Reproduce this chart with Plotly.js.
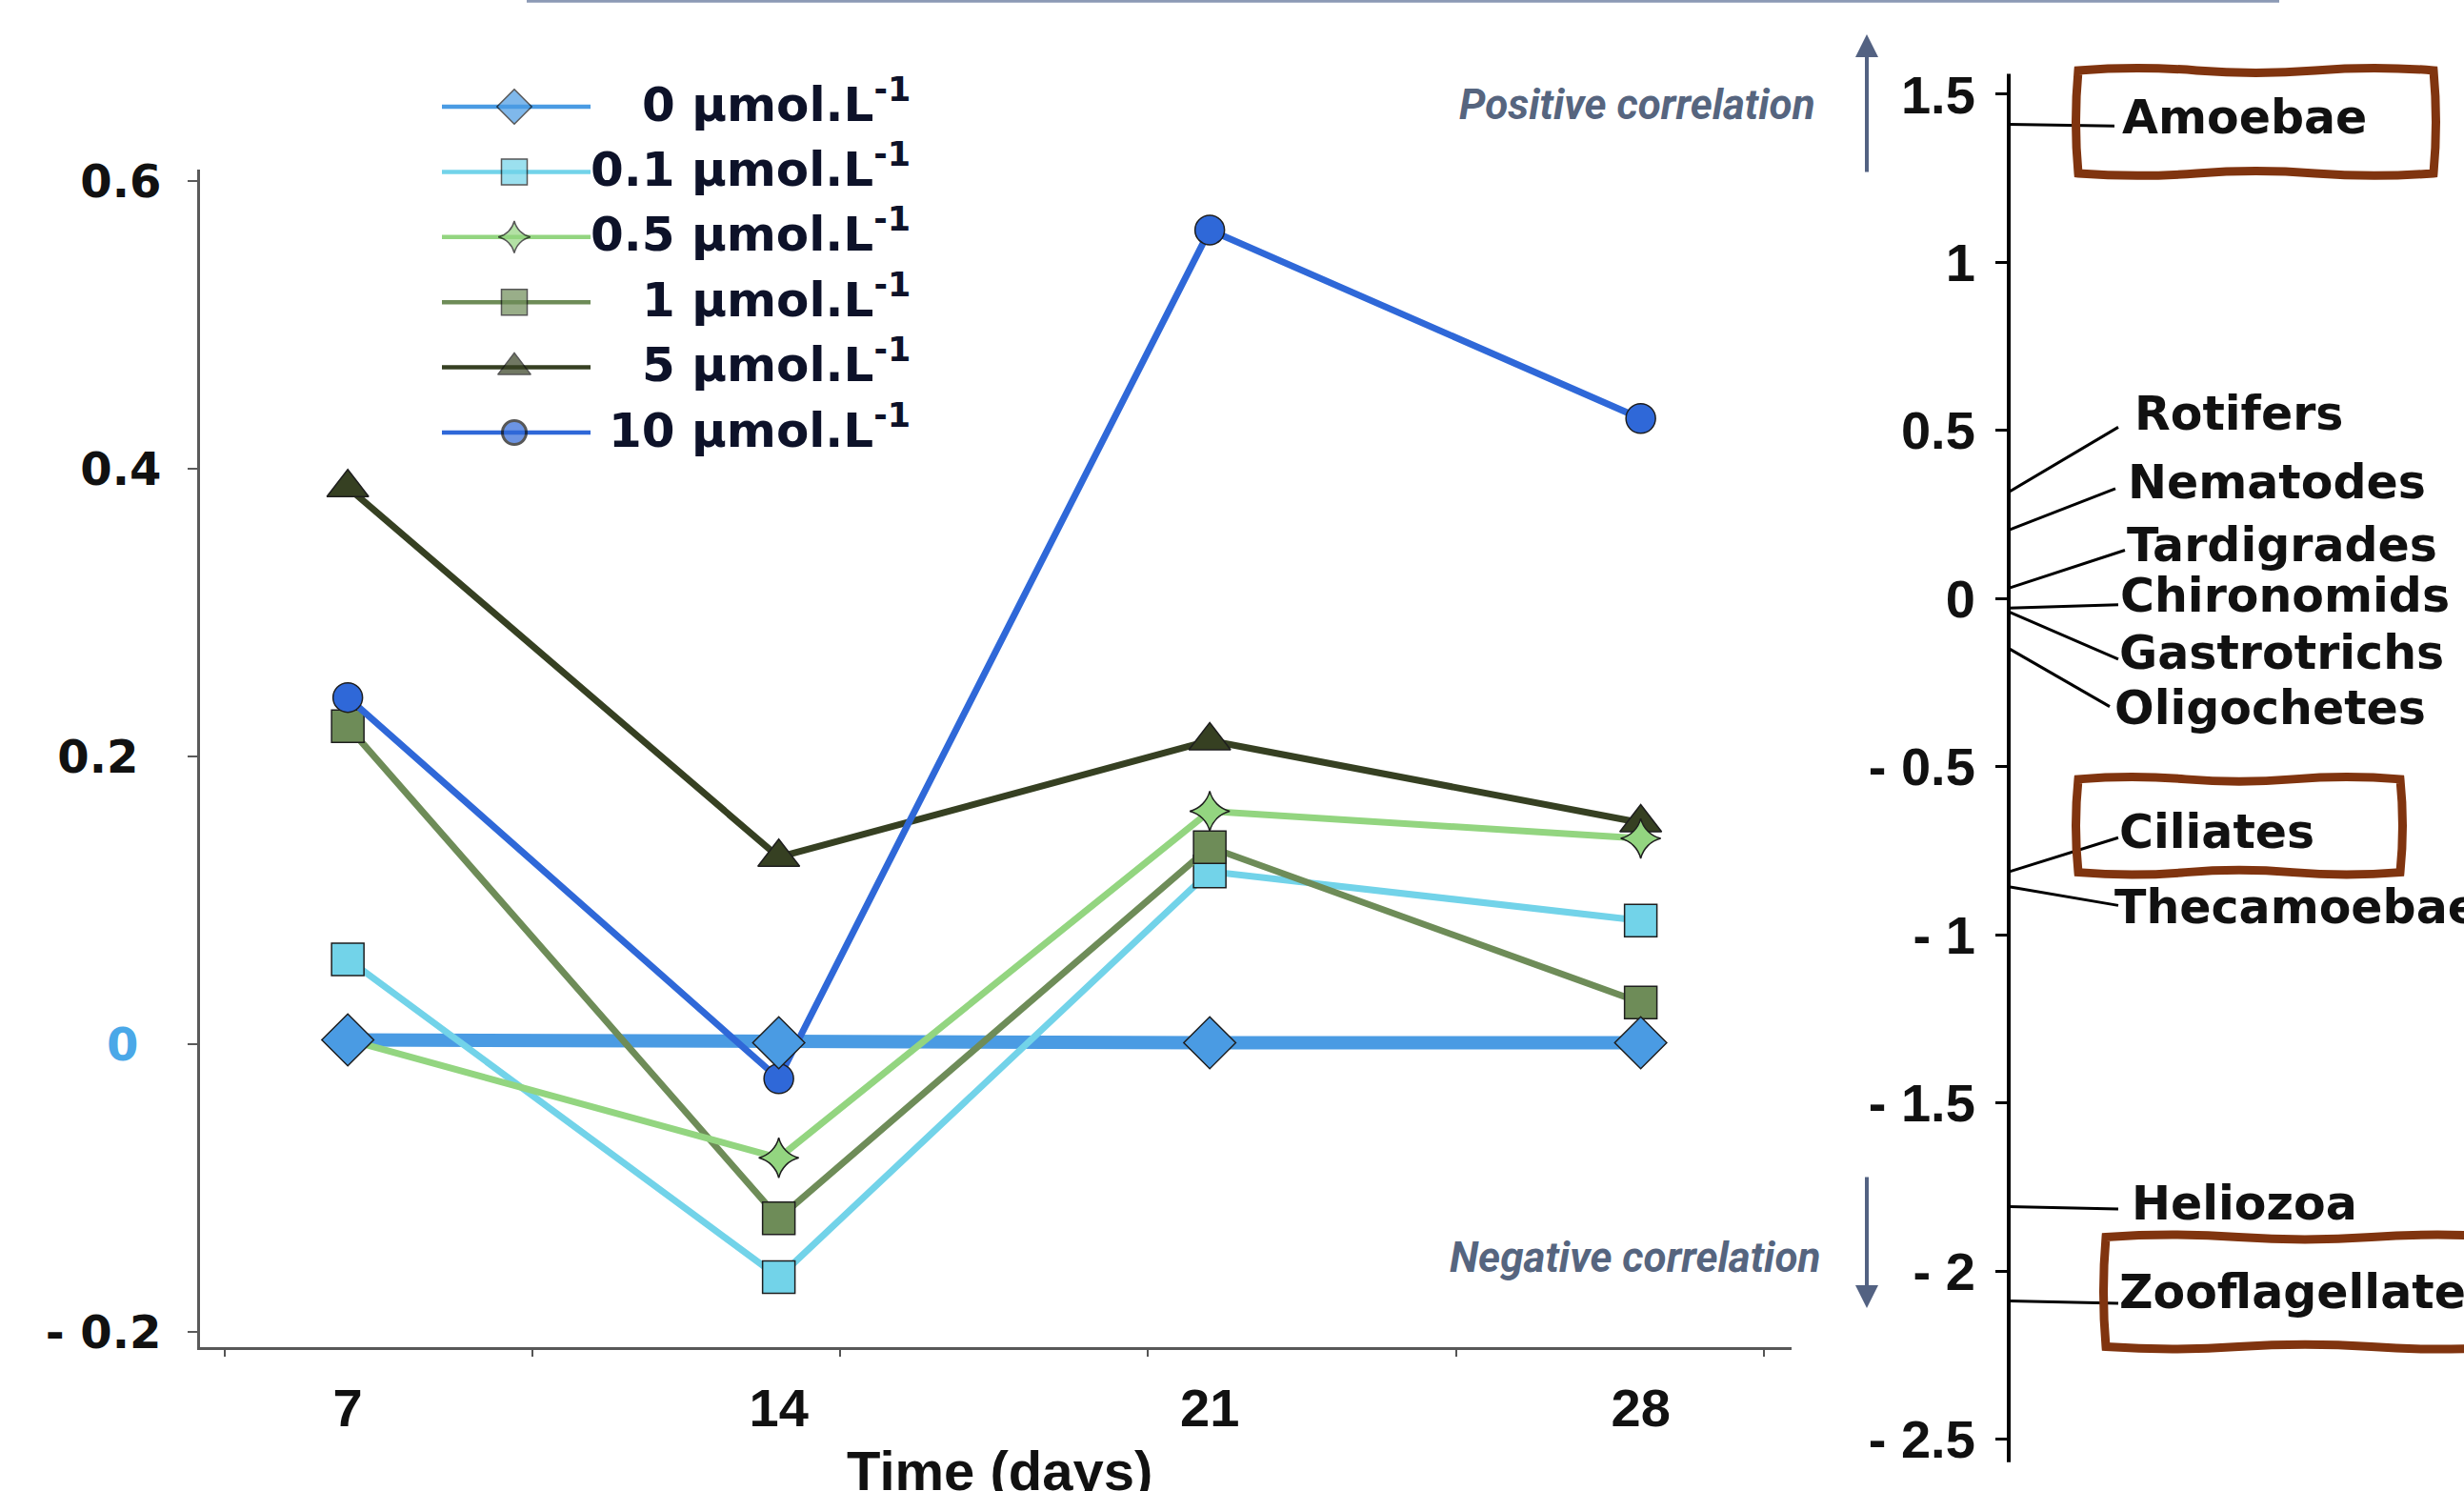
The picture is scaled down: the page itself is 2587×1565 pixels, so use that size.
<!DOCTYPE html>
<html><head><meta charset="utf-8">
<script src="https://cdn.plot.ly/plotly-3.0.1.min.js"></script>
<style>html,body{margin:0;padding:0;background:#fff;overflow:hidden}</style>
</head><body><div id="chart" style="width:2587px;height:1565px"></div>
<script>
// ---------- data ----------
const days = [7, 14, 21, 28];
const seriesNames = ['0 µmol.L<sup>-1</sup>', '0.1 µmol.L<sup>-1</sup>', '0.5 µmol.L<sup>-1</sup>',
                     '1 µmol.L<sup>-1</sup>', '5 µmol.L<sup>-1</sup>', '10 µmol.L<sup>-1</sup>'];
const conc0  = [0.003, 0.001, 0.001, 0.001];
const conc01 = [0.059, -0.162, 0.120, 0.086];
const conc05 = [0.003, -0.079, 0.162, 0.143];
const conc1  = [0.221, -0.121, 0.137, 0.029];
const conc5  = [0.387, 0.130, 0.211, 0.154];
const conc10 = [0.241, -0.024, 0.566, 0.435];
const yTickVals = [0.6, 0.4, 0.2, 0, -0.2];
const yTickText = ['0.6', '0.4', '0.2\u2002', '<span style="color:#4aa8e8">0</span>\u2002', '- 0.2'];

const speciesNames  = ['Amoebae', 'Rotifers', 'Nematodes', 'Tardigrades', 'Chironomids', 'Gastrotrichs',
                       'Oligochetes', 'Ciliates', 'Thecamoebae', 'Heliozoa', 'Zooflagellates'];
const speciesScores = [1.411, 0.317, 0.204, 0.031, -0.028, -0.039, -0.148, -0.8125, -0.857, -1.808, -2.089];
const highlighted   = ['Amoebae', 'Ciliates', 'Zooflagellates'];
const scoreTickVals = [1.5, 1, 0.5, 0, -0.5, -1, -1.5, -2, -2.5];
const scoreTickText = ['1.5', '1', '0.5', '0', '- 0.5', '- 1', '- 1.5', '- 2', '- 2.5'];

// ---------- label layout (positions only) ----------
const labelY   = [1.43, 0.549, 0.345, 0.158, 0.007, -0.162, -0.327, -0.694, -0.919, -1.801, -2.0625];
const lineEndY = [1.406, 0.510, 0.327, 0.144, -0.018, -0.180, -0.321, -0.711, -0.9125, -1.815, -2.096];
const lineEndX = [111, 115, 112, 122, 115, 115, 106, 115, 115, 115, 115];
const labelX   = [117, 130, 123, 122, 115, 114, 109, 114, 109, 127, 114];
const boxes = {Amoebae: [73, 446, 1.265, 1.571], Ciliates: [73, 411, -0.814, -0.537], Zooflagellates: [102, 520, -2.225, -1.899]};

// ---------- styles ----------
const styles = [
  {color: '#4a9be3', width: 14, symbol: 'diamond', size: 42, lsize: 28},
  {color: '#72d3e9', width: 7, symbol: 'square', size: 34, lsize: 27},
  {color: '#93d580', width: 7, symbol: 'star-diamond', size: 30, lsize: 24},
  {color: '#6e8c58', width: 7, symbol: 'square', size: 34, lsize: 27},
  {color: '#364022', width: 7, symbol: 'triangle-up', size: 38, lsize: 30},
  {color: '#2f68d8', width: 7, symbol: 'circle', size: 31, lsize: 25}
];
const seriesData = [conc0, conc01, conc05, conc1, conc5, conc10];
const drawOrder = [1, 3, 4, 2, 5];

const W = 2587, H = 1565;
const traces = [];
traces.push({x: days, y: conc0, mode: 'lines', line: {color: styles[0].color, width: styles[0].width},
  xaxis: 'x', yaxis: 'y', showlegend: false, hoverinfo: 'skip'});
drawOrder.forEach(i => {
  const s = styles[i];
  traces.push({x: days, y: seriesData[i], mode: 'lines+markers', name: seriesNames[i],
    line: {color: s.color, width: s.width},
    marker: {symbol: s.symbol, size: s.size, color: s.color, line: {color: '#1e1e1e', width: 1.5}},
    xaxis: 'x', yaxis: 'y', showlegend: false, cliponaxis: false});
});
traces.push({x: days, y: conc0, mode: 'markers',
  marker: {symbol: styles[0].symbol, size: styles[0].size, color: styles[0].color, line: {color: '#1e1e1e', width: 1.5}},
  xaxis: 'x', yaxis: 'y', showlegend: false, cliponaxis: false});

// custom legend (x3/y3 in page pixels)
const legTop = 112, legGap = 68.4, legX0 = 464, legX1 = 620, legXm = 540, legTextX = 958;
const annotations = [];
seriesNames.forEach((n, i) => {
  const s = styles[i];
  const ry = legTop + i * legGap;
  traces.push({x: [legX0, legXm, legX1], y: [ry, ry, ry], mode: 'lines+markers',
    line: {color: s.color, width: 4.5},
    marker: {symbol: s.symbol, size: [0, s.lsize, 0], color: s.color,
             line: {color: '#111', width: [0, i === 5 ? 3 : 1.5, 0]}},
    xaxis: 'x3', yaxis: 'y3', showlegend: false, cliponaxis: false, hoverinfo: 'skip'});
  annotations.push({xref: 'x3', yref: 'y3', x: legTextX, y: ry - 6, xanchor: 'right', yanchor: 'middle',
    text: n, showarrow: false, font: {family: 'DejaVu Sans', size: 50, color: '#0d1229', weight: 700}});
});

traces.push({x: [0], y: [0], mode: 'markers', marker: {size: 0, opacity: 0}, xaxis: 'x2', yaxis: 'y2',
  showlegend: false, hoverinfo: 'skip'});

const shapes = [];
shapes.push({type: 'line', xref: 'x2', yref: 'y2', x0: 0, x1: 0, y0: -2.568, y1: 1.561,
  line: {color: '#000', width: 4}});
speciesNames.forEach((n, i) => {
  shapes.push({type: 'line', xref: 'x2', yref: 'y2', x0: 0, y0: speciesScores[i], x1: lineEndX[i], y1: lineEndY[i],
    line: {color: '#000', width: 3}});
  annotations.push({xref: 'x2', yref: 'y2', x: labelX[i], y: labelY[i], xanchor: 'left', yanchor: 'middle',
    text: n, showarrow: false, font: {family: 'DejaVu Sans', size: 49, color: '#111', weight: 700}});
});
function wavyBox(x0, x1, y0, y1) {
  const ay = 0.014, ax = 5, n = 3;
  let p = `M${x0},${y1}`;
  for (let k = 0; k < n; k++) {
    const xa = x0 + (x1 - x0) * k / n, xb = x0 + (x1 - x0) * (k + 1) / n;
    p += ` Q${(xa + xb) / 2},${y1 + (k % 2 ? -ay : ay)} ${xb},${y1}`;
  }
  p += ` Q${x1 + ax},${(y0 + y1) / 2} ${x1},${y0}`;
  for (let k = 0; k < n; k++) {
    const xa = x1 - (x1 - x0) * k / n, xb = x1 - (x1 - x0) * (k + 1) / n;
    p += ` Q${(xa + xb) / 2},${y0 + (k % 2 ? ay : -ay)} ${xb},${y0}`;
  }
  p += ` Q${x0 - ax},${(y0 + y1) / 2} ${x0},${y1} Z`;
  return p;
}
highlighted.forEach(n => {
  const b = boxes[n];
  shapes.push({type: 'path', xref: 'x2', yref: 'y2', path: wavyBox(b[0], b[1], b[2], b[3]),
    line: {color: '#80340f', width: 9}});
});
shapes.push({type: 'line', xref: 'paper', yref: 'paper', x0: 553 / W, x1: 2393 / W, y0: 1 - 1.2 / H, y1: 1 - 1.2 / H,
  line: {color: '#8c9ab5', width: 3}});

const corrColor = '#536282';
annotations.push({xref: 'paper', yref: 'paper', x: 1960 / W, y: 1 - 36 / H, ax: 0, ay: 146, text: '',
  showarrow: true, arrowhead: 2, arrowsize: 1.2, arrowwidth: 4, arrowcolor: corrColor, standoff: 0});
annotations.push({xref: 'paper', yref: 'paper', x: 1960 / W, y: 1 - 1373 / H, ax: 0, ay: -139, text: '',
  showarrow: true, arrowhead: 2, arrowsize: 1.2, arrowwidth: 4, arrowcolor: corrColor, standoff: 0});
annotations.push({xref: 'paper', yref: 'paper', x: 1719 / W, y: 1 - 110 / H, xanchor: 'center', yanchor: 'middle',
  text: 'Positive correlation', showarrow: false,
  font: {family: 'Roboto', size: 44, color: '#56657f', weight: 700, style: 'italic'}});
annotations.push({xref: 'paper', yref: 'paper', x: 1716 / W, y: 1 - 1320 / H, xanchor: 'center', yanchor: 'middle',
  text: 'Negative correlation', showarrow: false,
  font: {family: 'Roboto', size: 44, color: '#56657f', weight: 700, style: 'italic'}});
annotations.push({xref: 'paper', yref: 'paper', x: 1049 / W, y: 1 - 1543 / H, xanchor: 'center', yanchor: 'middle',
  text: 'Time (days)', showarrow: false,
  font: {family: 'Liberation Sans', size: 58, color: '#111', weight: 700}});

const layout = {
  width: W, height: H, margin: {l: 0, r: 0, t: 0, b: 0},
  paper_bgcolor: '#fff', plot_bgcolor: 'rgba(0,0,0,0)', showlegend: false,
  xaxis: {domain: [210 / W, 1881 / W], range: [4.6, 30.45], anchor: 'y',
    showline: true, linecolor: '#585858', linewidth: 3, showgrid: false, zeroline: false,
    tickmode: 'array', tickvals: days, ticktext: days.map(String), ticks: '',
    tickfont: {family: 'Liberation Sans', size: 56, color: '#111', weight: 700},
    ticklabelstandoff: 13,
    minor: {tickmode: 'linear', tick0: 0, dtick: 5, ticks: 'outside', ticklen: 7, tickwidth: 2, tickcolor: '#555', showgrid: false}},
  yaxis: {domain: [1 - 1414 / H, 1 - 178 / H], range: [-0.2106, 0.608], anchor: 'x',
    showline: true, linecolor: '#5a5a5a', linewidth: 3, showgrid: false, zeroline: false,
    tickmode: 'array', tickvals: yTickVals, ticktext: yTickText, ticks: 'outside', ticklen: 10, tickwidth: 2, tickcolor: '#5a5a5a',
    tickfont: {family: 'DejaVu Sans', size: 48, color: '#111', weight: 700}, ticklabelstandoff: 18},
  xaxis2: {domain: [2100 / W, 1], range: [-9, 478], anchor: 'y2', visible: false, fixedrange: true},
  yaxis2: {domain: [1 - 1553 / H, 1 - 42.5 / H], range: [-2.62, 1.66], anchor: 'free', position: 2109 / W,
    showline: false, showgrid: false, zeroline: false,
    tickmode: 'array', tickvals: scoreTickVals, ticktext: scoreTickText, ticks: 'outside', ticklen: 14, tickwidth: 3, tickcolor: '#000',
    tickfont: {family: 'Liberation Sans', size: 56, color: '#111', weight: 700}, ticklabelstandoff: 10},
  xaxis3: {domain: [440 / W, 980 / W], range: [440, 980], anchor: 'y3', visible: false},
  yaxis3: {domain: [1 - 520 / H, 1 - 60 / H], range: [520, 60], anchor: 'x3', visible: false},
  shapes: shapes, annotations: annotations
};
Plotly.newPlot('chart', traces, layout, {staticPlot: true, displayModeBar: false});
</script></body></html>
